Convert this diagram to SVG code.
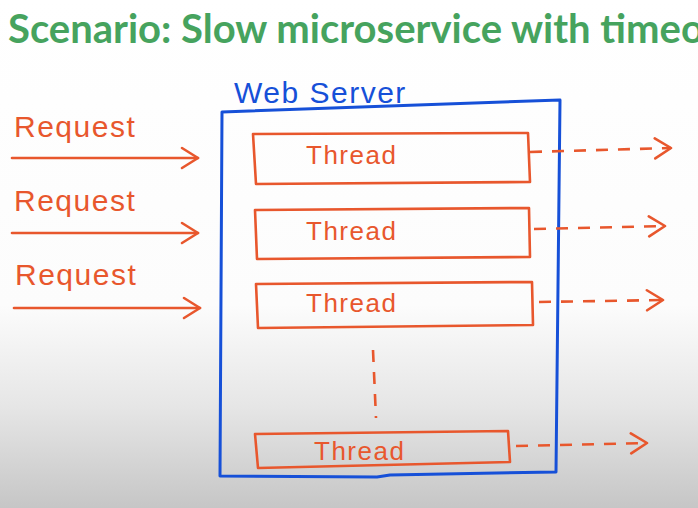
<svg xmlns="http://www.w3.org/2000/svg" width="698" height="508" viewBox="0 0 698 508">
<defs>
<linearGradient id="bg" x1="0" y1="0" x2="0" y2="1">
<stop offset="0" stop-color="#ffffff"/>
<stop offset="0.6" stop-color="#fcfcfc"/>
<stop offset="0.8" stop-color="#e6e6e6"/>
<stop offset="1" stop-color="#c6c6c6"/>
</linearGradient>
<marker id="chev" viewBox="0 0 20 24" refX="18" refY="12" markerWidth="20" markerHeight="24" markerUnits="userSpaceOnUse" orient="auto">
<path d="M2,2 L18,12 L2,22" fill="none" stroke="#e8572d" stroke-width="2.6" stroke-linecap="round" stroke-linejoin="round"/>
</marker>
</defs>
<style>
.title{font-family:Lato,"Open Sans","Liberation Sans",sans-serif;font-weight:bold;font-size:40px;fill:#46a35e}
.hand{font-family:"Liberation Sans",Arial,sans-serif;fill:#e8572d}
.box{fill:none;stroke:#e8572d;stroke-width:2.6;stroke-linejoin:round}
.srv{fill:none;stroke:#1650d8;stroke-width:3;stroke-linejoin:round}
.arr{fill:none;stroke:#e8572d;stroke-width:2.6;stroke-linecap:round}
.dash{fill:none;stroke:#e8572d;stroke-width:2.6;stroke-dasharray:12 10}
.lbl{font-size:30px;letter-spacing:1.5px}
.thr{font-size:26px;letter-spacing:1.5px}
</style>
<rect width="698" height="508" fill="url(#bg)"/>
<text class="title" x="8" y="43">Scenario: Slow microservice with timeouts</text>

<g id="request-1"><text class="hand lbl" x="14" y="137">Request</text></g>
<g id="request-2"><text class="hand lbl" x="14" y="211">Request</text></g>
<g id="request-3"><text class="hand lbl" x="15" y="285">Request</text></g>

<g id="web-server">
<text class="lbl" x="234" y="103" style="font-family:'Liberation Sans',Arial,sans-serif;fill:#1650d8">Web Server</text>
<path class="srv" d="M222,112 L560,100 L556,472 L390,475 L377,477 L220,476 Z"/>
</g>

<g id="thread-1">
<path class="box" d="M253,134 L528,133 L530,182 L256,184 Z"/>
<text class="hand thr" x="306" y="164">Thread</text>
</g>
<g id="thread-2">
<path class="box" d="M255,210 L529,208 L530,257 L257,259 Z"/>
<text class="hand thr" x="306" y="240">Thread</text>
</g>
<g id="thread-3">
<path class="box" d="M256,284 L532,282 L533,325 L258,328 Z"/>
<text class="hand thr" x="306" y="312">Thread</text>
</g>
<g id="thread-n">
<path class="box" d="M255,434 L508,431 L510,462 L258,468 Z"/>
<text class="hand thr" x="314" y="460">Thread</text>
</g>

<g id="connectors">
<line class="arr" x1="12" y1="158" x2="198" y2="158" marker-end="url(#chev)"/>
<line class="arr" x1="12" y1="233" x2="198" y2="233" marker-end="url(#chev)"/>
<line class="arr" x1="14" y1="308" x2="200" y2="308" marker-end="url(#chev)"/>
<line class="dash" x1="530" y1="152" x2="671" y2="148" marker-end="url(#chev)"/>
<line class="dash" x1="534" y1="229" x2="665" y2="226" marker-end="url(#chev)"/>
<line class="dash" x1="539" y1="302" x2="663" y2="300" marker-end="url(#chev)"/>
<line class="dash" x1="516" y1="446" x2="647" y2="443" marker-end="url(#chev)"/>
<line class="dash" x1="373" y1="350" x2="376" y2="418"/>
</g>
</svg>
